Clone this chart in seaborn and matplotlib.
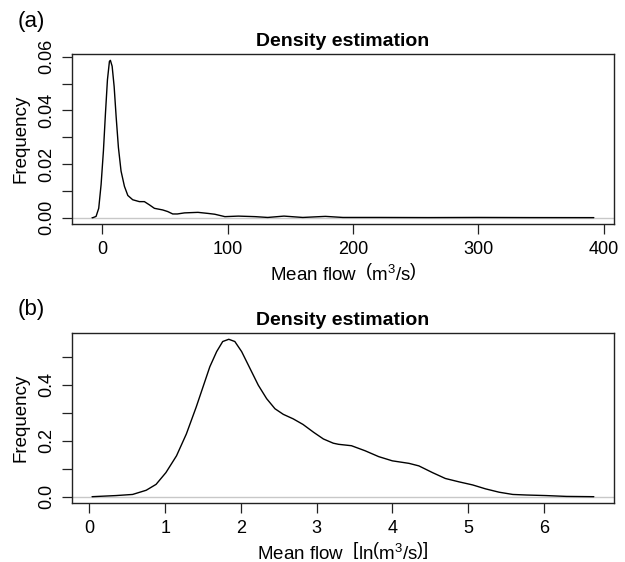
import numpy as np
import pandas as pd
import matplotlib
matplotlib.use('Agg')
import matplotlib.pyplot as plt
import seaborn as sns

# (a) densidade da vazão média (m3/s)
vazao = [-8, -7.4, -4.8, -2.7, -0.8, 1.06, 2.66, 4.25, 5.84, 6.6, 8.0, 9.6,
         11.2, 13.0, 15.1, 17.8, 20.5, 24.4, 29.7, 33.7, 37.7, 41.7, 48.3,
         52.3, 56.3, 60, 65.7, 76.4, 84.5, 89.8, 97.9, 108.6, 122, 132, 145,
         160, 178, 192, 220, 260, 300, 340, 392]
dens_vazao = [0, 0, 0.0005, 0.0035, 0.0124, 0.025, 0.0388, 0.0514, 0.0583,
              0.0587, 0.0565, 0.0489, 0.0376, 0.0262, 0.0174, 0.0117, 0.0083,
              0.0067, 0.006, 0.006, 0.0048, 0.0035, 0.0029, 0.0023, 0.0014,
              0.0014, 0.0018, 0.002, 0.0016, 0.0013, 0.0004, 0.0006, 0.0004,
              0.0001, 0.0006, 0.0001, 0.0005, 0.0001, 0.0001, 0.00005,
              0.0001, 0.00005, 0.00003]

# (b) densidade do log da vazão
log_vazao = [0.035, 0.35, 0.57, 0.75, 0.88, 1.01, 1.15, 1.28, 1.41, 1.50,
             1.59, 1.68, 1.76, 1.84, 1.92, 2.01, 2.12, 2.23, 2.34, 2.45,
             2.56, 2.69, 2.82, 2.96, 3.09, 3.22, 3.29, 3.46, 3.64, 3.82, 4.0,
             4.22, 4.35, 4.53, 4.70, 4.88, 5.06, 5.23, 5.41, 5.59, 5.77,
             6.03, 6.3, 6.66]
dens_log = [0, 0.004, 0.008, 0.023, 0.044, 0.086, 0.146, 0.224, 0.32, 0.392,
            0.464, 0.518, 0.554, 0.562, 0.554, 0.518, 0.458, 0.398, 0.35,
            0.314, 0.294, 0.278, 0.258, 0.23, 0.206, 0.191, 0.187, 0.182,
            0.164, 0.143, 0.128, 0.119, 0.110, 0.086, 0.065, 0.053, 0.042,
            0.028, 0.016, 0.008, 0.006, 0.004, 0.001, 0]

sns.set_style('ticks')
plt.rcParams['font.family'] = ['Liberation Sans', 'DejaVu Sans']
plt.rcParams['mathtext.fontset'] = 'custom'
plt.rcParams['mathtext.rm'] = 'Liberation Sans'
plt.rcParams['mathtext.it'] = 'Liberation Sans:italic'
plt.rcParams['text.color'] = 'black'
plt.rcParams['axes.labelcolor'] = 'black'
plt.rcParams['xtick.color'] = 'black'
plt.rcParams['ytick.color'] = 'black'

fig = plt.figure(figsize=(6.25, 5.62), dpi=100)
ax1 = fig.add_axes([0.1152, 0.6014, 0.867, 0.3025])
ax2 = fig.add_axes([0.1152, 0.105, 0.867, 0.3025])


def painel(ax, x, y, yticks, ylabs, xticks, xlabel):
    sns.lineplot(x=x, y=y, ax=ax, color='black', linewidth=1.0)
    ax.axhline(0, color='#c8c8c8', linewidth=1.0, zorder=0)
    # limites no estilo do R (4% de folga)
    rx = max(x) - min(x)
    ry = max(y)
    ax.set_xlim(min(x) - 0.04 * rx, max(x) + 0.04 * rx)
    ax.set_ylim(-0.04 * ry, ry * 1.04)
    ax.set_yticks(yticks)
    ax.set_yticklabels(ylabs)
    ax.set_xticks(xticks)
    ax.set_xticklabels([str(t) for t in xticks])
    for lab in ax.get_yticklabels():
        lab.set_rotation(90)
        lab.set_va('center')
    ax.tick_params(direction='out', length=7, width=0.9, labelsize=13,
                   color='#222222', pad=5)
    for s in ax.spines.values():
        s.set_linewidth(1.0)
        s.set_color('#222222')
    ax.set_title('Density estimation', fontsize=14, fontweight='bold', pad=6)
    ax.set_ylabel('Frequency', fontsize=13.5, labelpad=6)
    ax.set_xlabel(xlabel, fontsize=13.5, labelpad=4)


painel(ax1, vazao, dens_vazao,
       [0, 0.01, 0.02, 0.03, 0.04, 0.05, 0.06],
       ['0.00', '', '0.02', '', '0.04', '', '0.06'],
       [0, 100, 200, 300, 400],
       r'Mean flow  $\left(\mathrm{m}^3/\mathrm{s}\right)$')

painel(ax2, log_vazao, dens_log,
       [0, 0.1, 0.2, 0.3, 0.4, 0.5],
       ['0.0', '', '0.2', '', '0.4', ''],
       [0, 1, 2, 3, 4, 5, 6],
       r'Mean flow  $\left[\mathrm{ln}\left(\mathrm{m}^3/\mathrm{s}\right)\right]$')

fig.text(0.028, 0.962, '(a)', fontsize=16, va='center')
fig.text(0.028, 0.45, '(b)', fontsize=16, va='center')

plt.savefig('out.png', dpi=100)
